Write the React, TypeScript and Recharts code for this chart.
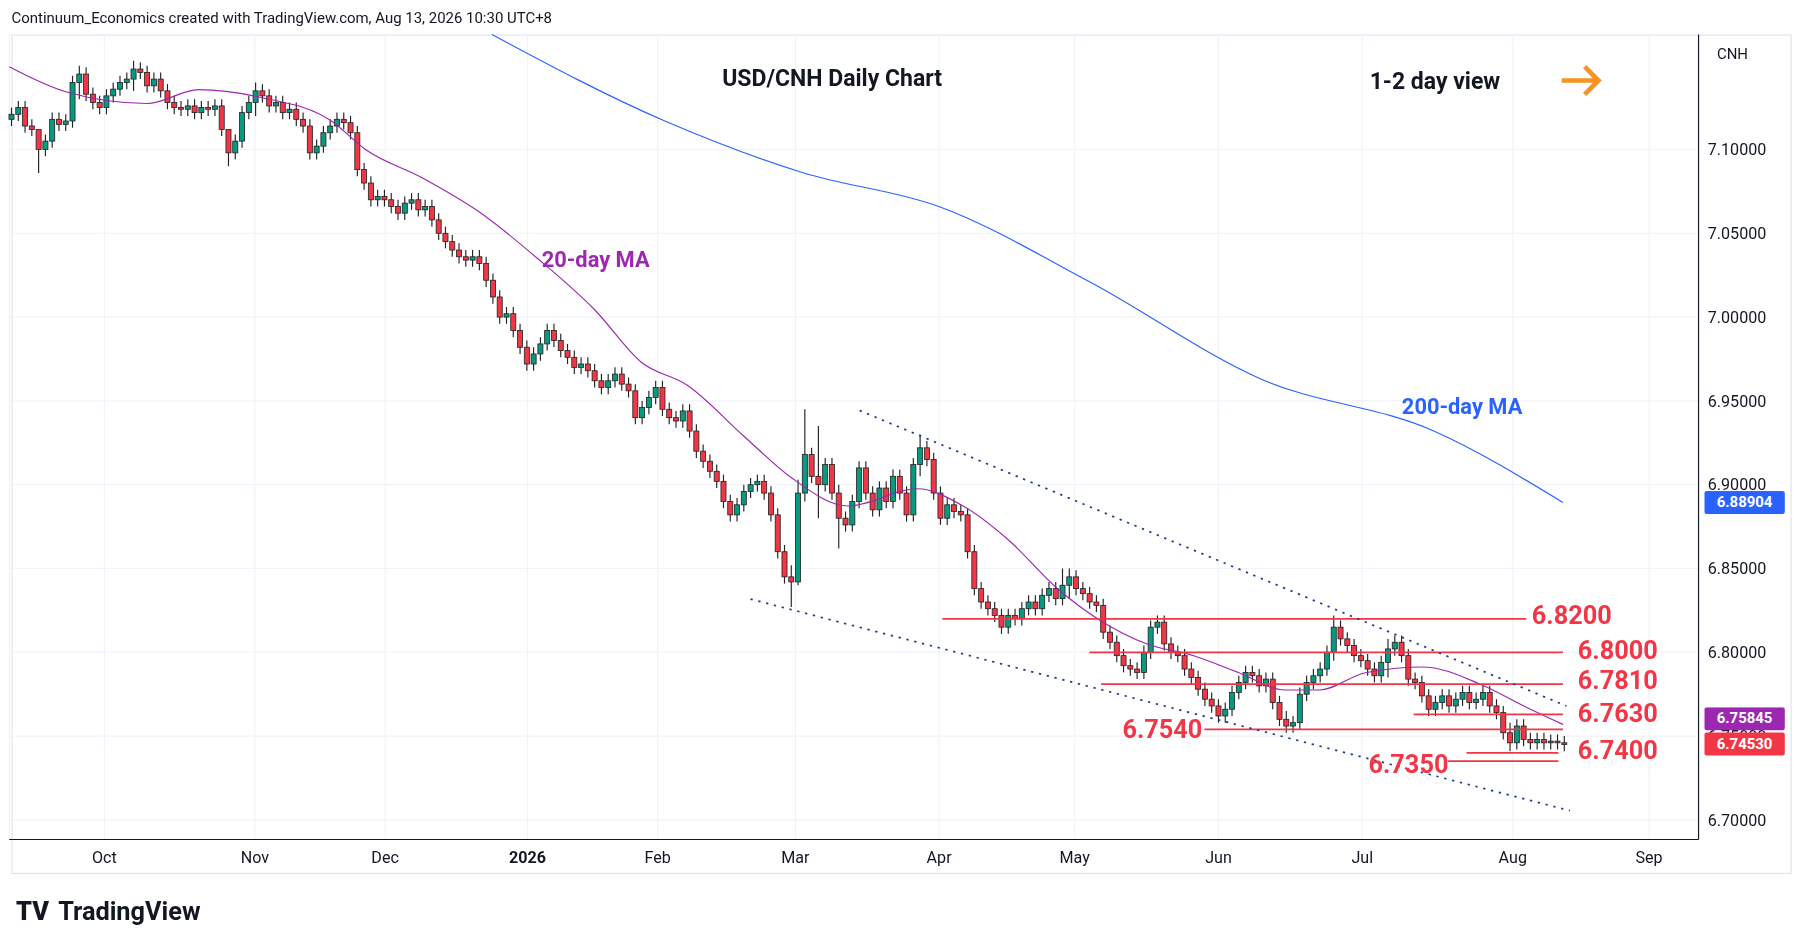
import React from "react";
import { ComposedChart, Bar, Line, XAxis, YAxis, CartesianGrid, ReferenceLine } from "recharts";

const closes = [7.121,7.125,7.114,7.112,7.100,7.105,7.118,7.115,7.117,7.140,7.145,7.133,7.128,7.125,7.132,7.136,7.140,7.142,7.148,7.146,
7.138,7.142,7.135,7.128,7.125,7.124,7.126,7.122,7.125,7.124,7.126,7.112,7.098,7.105,7.122,7.128,7.135,7.132,7.126,7.128,
7.122,7.124,7.118,7.114,7.098,7.102,7.110,7.114,7.118,7.116,7.110,7.088,7.080,7.070,7.072,7.070,7.066,7.062,7.068,7.070,
7.064,7.066,7.058,7.050,7.045,7.040,7.036,7.034,7.036,7.032,7.022,7.012,7.000,7.002,6.992,6.982,6.972,6.978,6.984,6.992,
6.986,6.980,6.976,6.970,6.972,6.968,6.962,6.958,6.962,6.966,6.960,6.956,6.940,6.946,6.952,6.958,6.945,6.940,6.938,6.944,
6.932,6.920,6.914,6.908,6.902,6.890,6.882,6.888,6.896,6.900,6.902,6.895,6.882,6.860,6.845,6.842,6.895,6.918,6.905,6.900,
6.912,6.895,6.880,6.876,6.890,6.910,6.895,6.885,6.898,6.890,6.905,6.895,6.882,6.912,6.922,6.915,6.895,6.880,6.888,6.884,
6.882,6.860,6.838,6.830,6.826,6.822,6.815,6.822,6.820,6.826,6.830,6.826,6.834,6.838,6.832,6.840,6.845,6.838,6.835,6.830,
6.828,6.812,6.806,6.798,6.792,6.790,6.788,6.800,6.815,6.818,6.805,6.800,6.798,6.790,6.785,6.778,6.772,6.768,6.762,6.766,
6.776,6.782,6.788,6.786,6.780,6.784,6.770,6.760,6.756,6.758,6.775,6.782,6.786,6.790,6.800,6.815,6.808,6.804,6.798,6.795,
6.790,6.786,6.794,6.802,6.806,6.798,6.784,6.782,6.774,6.766,6.770,6.774,6.768,6.772,6.776,6.770,6.772,6.776,6.768,6.764,
6.752,6.746,6.756,6.748,6.746,6.748,6.746,6.747,6.746,6.745];

// notable wick extremes: [index, high, low]
const wickSpikes: [number, number, number][] = [
  [4, 7.106, 7.086], [10, 7.150, 7.130], [18, 7.153, 7.135], [32, 7.112, 7.090], [36, 7.140, 7.120],
  [115, 6.852, 6.827], [116, 6.903, 6.840], [117, 6.945, 6.890], [119, 6.935, 6.880], [122, 6.900, 6.862],
  [134, 6.930, 6.905], [155, 6.850, 6.828], [156, 6.850, 6.832], [195, 6.822, 6.795], [203, 6.808, 6.785],
  [188, 6.765, 6.752], [221, 6.758, 6.741]
];
const defaultWick = 0.004;

const maPixels: [number, number][] = [[10,58],[60,80],[130,90],[175,78],[230,85],[290,105],[320,130],[370,155],[420,185],[470,225],[520,270],[560,315],[600,335],[650,380],[690,415],[740,440],[800,425],[840,440],[880,470],[920,510],[960,540],[1000,560],[1040,570],[1080,585],[1120,600],[1150,600],[1190,585],[1240,580],[1290,595],[1330,615],[1362,630]];
const ma200Pixels: [number, number][] = [[430,30],[580,105],[700,150],[820,180],[950,245],[1100,330],[1250,375],[1362,437]];

const toI = (x: number) => (x - 12) / 5.9;
const toP = (y: number) => 7.1 - (y - 130) / 1457.5;
const ma20 = maPixels.map(([x, y]) => ({ i: toI(x), v: toP(y) }));
const ma200 = ma200Pixels.map(([x, y]) => ({ i: toI(x), v: toP(y) }));

const data = closes.map((c, i) => {
  const o = i === 0 ? 7.118 : closes[i - 1];
  const sp = wickSpikes.find((s) => s[0] === i);
  const h = sp ? sp[1] : Math.max(o, c) + defaultWick;
  const l = sp ? sp[2] : Math.min(o, c) - defaultWick;
  return { i, o, h, l, c };
});

const monthTicks = [13.7, 35.9, 55.1, 76.1, 95.3, 115.6, 136.8, 156.8, 178, 199.2, 221.4, 241.5];
const monthLabels = ["Oct", "Nov", "Dec", "2026", "Feb", "Mar", "Apr", "May", "Jun", "Jul", "Aug", "Sep"];
const priceTicks = [6.7, 6.75, 6.8, 6.85, 6.9, 6.95, 7.0, 7.05, 7.1];

const levels = [
  { p: 6.82, x1: 822, x2: 1330 }, { p: 6.80, x1: 950, x2: 1362 }, { p: 6.781, x1: 960, x2: 1362 },
  { p: 6.763, x1: 1232, x2: 1362 }, { p: 6.754, x1: 1050, x2: 1362 }, { p: 6.74, x1: 1278, x2: 1358 },
  { p: 6.735, x1: 1262, x2: 1358 },
];
const channels = [
  { x1: 750, y1: 357, x2: 1365, y2: 614 },
  { x1: 655, y1: 521, x2: 1368, y2: 705 },
];
const redLabels = [
  { t: "6.8200", x: 1332, y: 525 }, { t: "6.8000", x: 1372, y: 555 }, { t: "6.7810", x: 1372, y: 581 },
  { t: "6.7630", x: 1372, y: 610 }, { t: "6.7540", x: 976, y: 624 }, { t: "6.7400", x: 1372, y: 642 },
  { t: "6.7350", x: 1190, y: 654 },
];

const UP = "#089981", DOWN = "#f23645";
const Candle = (props: any) => {
  const { x, y, width, height, payload } = props;
  const { o, h, l, c } = payload;
  const ppu = h - l > 0 ? height / (h - l) : 0;
  const top = y + (h - Math.max(o, c)) * ppu;
  const bh = Math.max(1, Math.abs(o - c) * ppu);
  const col = c >= o ? UP : DOWN;
  const cx = x + width / 2;
  const bw = 4.4;
  return (
    <g>
      <line x1={cx} x2={cx} y1={y} y2={y + height} stroke="#222" strokeWidth={1} />
      <rect x={cx - bw / 2} y={top} width={bw} height={bh} fill={col} stroke="#222" strokeWidth={0.7} />
    </g>
  );
};

const Tag = ({ text, y, bg }: { text: string; y: number; bg: string }) => (
  <div style={{ position: "absolute", left: 1482, top: y - 10, width: 70, height: 20, background: bg, color: "#fff", fontSize: 13, fontWeight: 700, lineHeight: "20px", textAlign: "center", borderRadius: 2 }}>{text}</div>
);

export default function App() {
  return (
    <div style={{ position: "absolute", left: 0, top: 0, width: 1794, height: 946, background: "#fff", overflow: "hidden" }}>
    <div style={{ position: "absolute", left: 0, top: 0, width: 1560, height: 823, transform: "scale(1.15)", transformOrigin: "0 0", fontFamily: "Roboto, 'Noto Sans', sans-serif" }}>
      <div style={{ position: "absolute", left: 10, top: 8, fontSize: 13, color: "#131722" }}>Continuum_Economics created with TradingView.com, Aug 13, 2026 10:30 UTC+8</div>
      <div style={{ position: "absolute", left: 10, top: 30, width: 1548, height: 730, border: "1px solid #e0e3eb", boxSizing: "border-box" }} />
      <div style={{ position: "absolute", left: 0, top: 0 }}>
        <ComposedChart width={1555} height={760} data={data} margin={{ top: 30, left: 8, right: 0, bottom: 0 }}>
          <CartesianGrid stroke="#f0f3fa" />
          <XAxis dataKey="i" type="number" domain={[-0.34, 248.8]} ticks={monthTicks} interval={0}
            height={30} tickLine={false}
            axisLine={{ stroke: "#131722" }} tick={(p: any) => {
              const lab = monthLabels[monthTicks.indexOf(p.payload.value)];
              return <text x={p.x} y={p.y + 12} textAnchor="middle" fontSize={14} fontWeight={lab === "2026" ? 700 : 400} fill="#131722">{lab}</text>;
            }} allowDecimals />
          <YAxis orientation="right" width={78} domain={[6.6883, 7.1686]} ticks={priceTicks}
            tickFormatter={(v: number) => v.toFixed(5)} tick={{ fontSize: 14, fill: "#131722" }} tickLine={false} axisLine={{ stroke: "#131722" }} />
          <Bar dataKey={(d: any) => [d.l, d.h]} barSize={4} shape={<Candle />} isAnimationActive={false} />
          <Line data={ma20} dataKey="v" type="monotone" stroke="#9c27b0" strokeWidth={1} dot={false} isAnimationActive={false} />
          <Line data={ma200} dataKey="v" type="monotone" stroke="#2962ff" strokeWidth={1} dot={false} isAnimationActive={false} />
          {levels.map((lv, k) => (
            <ReferenceLine key={"l" + k} segment={[{ x: toI(lv.x1), y: lv.p }, { x: toI(lv.x2), y: lv.p }]} stroke="#f23645" strokeWidth={1.5} ifOverflow="visible" />
          ))}
          {channels.map((c, k) => (
            <ReferenceLine key={"c" + k} segment={[{ x: toI(c.x1), y: toP(c.y1) }, { x: toI(c.x2), y: toP(c.y2) }]} stroke="#1e3a8a" strokeDasharray="2 5" strokeWidth={1.5} ifOverflow="visible" />
          ))}
        </ComposedChart>
      </div>
      <div style={{ position: "absolute", left: 628, top: 56, fontSize: 20, fontWeight: 700, color: "#131722" }}>USD/CNH Daily Chart</div>
      <div style={{ position: "absolute", left: 1191, top: 58, fontSize: 20, fontWeight: 700, color: "#131722" }}>1-2 day view</div>
      <svg style={{ position: "absolute", left: 1356, top: 54 }} width={40} height={32}>
        <path d="M2 16 H34 M22 4 L34 16 L22 28" stroke="#f7931e" strokeWidth={4} fill="none" />
      </svg>
      <div style={{ position: "absolute", left: 471, top: 214, fontSize: 19, fontWeight: 700, color: "#9c27b0" }}>20-day MA</div>
      <div style={{ position: "absolute", left: 1219, top: 342, fontSize: 19, fontWeight: 700, color: "#2962ff" }}>200-day MA</div>
      {redLabels.map((r) => (
        <div key={r.t} style={{ position: "absolute", left: r.x, top: r.y, fontSize: 22, lineHeight: "22px", fontWeight: 700, color: "#f23645" }}>{r.t}</div>
      ))}
      <div style={{ position: "absolute", left: 1493, top: 39, fontSize: 13, color: "#131722" }}>CNH</div>
      <Tag text="6.88904" y={437} bg="#2962ff" />
      <Tag text="6.75845" y={625} bg="#9c27b0" />
      <Tag text="6.74530" y={647} bg="#f23645" />
      <div style={{ position: "absolute", left: 14, top: 780, fontSize: 22, fontWeight: 700, color: "#131722" }}>
        <span style={{ fontWeight: 900, marginRight: 8 }}>TV</span>TradingView
      </div>
    </div>
    </div>
  );
}
